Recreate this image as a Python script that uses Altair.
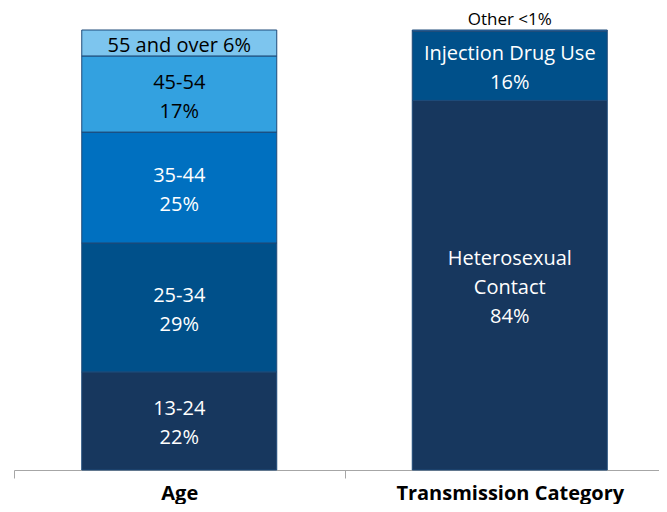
import altair as alt
import pandas as pd

groups = ["Age", "Age", "Age", "Age", "Age",
          "Transmission Category", "Transmission Category", "Transmission Category"]
segments = ["13-24", "25-34", "35-44", "45-54", "55 and over",
            "Heterosexual Contact", "Injection Drug Use", "Other"]
values = [22.3, 29.3, 25.2, 17.3, 5.9, 84.0, 15.7, 0.3]
labels = ["13-24\n22%", "25-34\n29%", "35-44\n25%", "45-54\n17%", "55 and over 6%",
          "Heterosexual\nContact\n84%", "Injection Drug Use\n16%", "Other <1%"]
fills = ["#17375E", "#00508A", "#0070C0", "#33A1E0", "#7DC5EE",
         "#17375E", "#00508A", "#2E75B6"]
text_colors = ["white", "white", "white", "black", "black", "white", "white", "black"]
inside = [True, True, True, True, True, True, True, False]
group_order = ["Age", "Transmission Category"]

df = pd.DataFrame({
    "group": groups, "segment": segments, "value": values, "label": labels,
    "tcolor": text_colors, "inside": inside,
})
df["end"] = df.groupby("group")["value"].cumsum()
df["start"] = df["end"] - df["value"]
df["mid"] = (df["start"] + df["end"]) / 2
df["nlines"] = df["label"].str.count("\n") + 1

FONT = "Open Sans"
LH = 29

x = alt.X("group:N", sort=group_order,
          scale=alt.Scale(paddingInner=0, paddingOuter=0, range=[0, 661]),
          axis=alt.Axis(title=None, labelAngle=0, labelFont=FONT, labelFontSize=20,
                        labelFontWeight="bold", labelColor="black", labelLimit=400,
                        domainColor="#A6A6A6", tickColor="#A6A6A6", tickSize=8,
                        tickBand="extent", labelPadding=5))
yscale = alt.Scale(domain=[0, 100], nice=False, zero=True)

base = alt.Chart(df)

bars = base.mark_bar(width=195, stroke="#1F4A78", strokeWidth=1).encode(
    x=x,
    y=alt.Y("start:Q", scale=yscale, axis=None),
    y2="end:Q",
    color=alt.Color("segment:N", scale=alt.Scale(domain=segments, range=fills), legend=None),
)

layers = [bars]
for n in [1, 2, 3]:
    layers.append(
        base.transform_filter(f"datum.inside && datum.nlines == {n}").mark_text(
            font=FONT, fontSize=20, lineBreak="\n", lineHeight=LH, baseline="middle",
            align="center", dy=-(n - 1) * LH / 2 + 3
        ).encode(
            x=alt.X("group:N", sort=group_order),
            y=alt.Y("mid:Q", scale=yscale),
            text="label:N",
            color=alt.Color("tcolor:N", scale=None),
        )
    )

layers.append(
    base.transform_filter("!datum.inside").mark_text(
        font=FONT, fontSize=17, baseline="middle", align="center", dy=-10, color="black"
    ).encode(
        x=alt.X("group:N", sort=group_order),
        y=alt.Y("end:Q", scale=yscale),
        text="label:N",
    )
)

chart = alt.layer(*layers).properties(
    width=645, height=440,
    autosize=alt.AutoSizeParams(type="none"),
    padding={"left": 6, "top": 22, "right": 0, "bottom": 34},
).configure_view(stroke=None)

chart.save("out.html", embed_options={"renderer": "svg", "actions": False})
